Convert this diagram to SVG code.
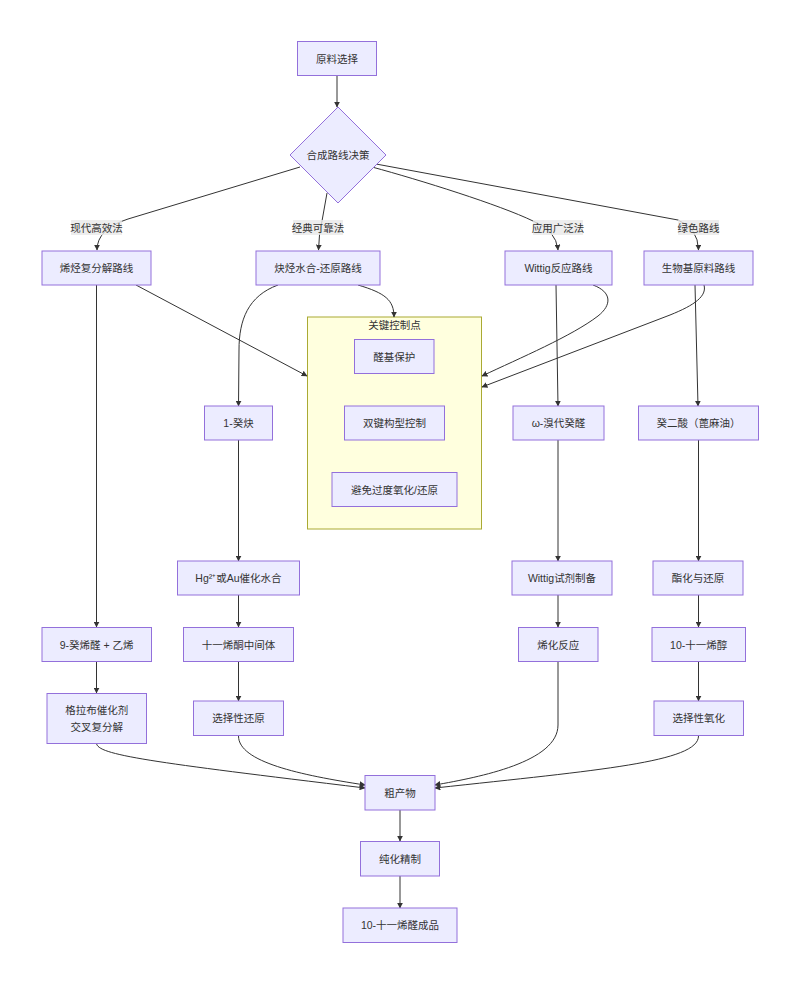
<svg xmlns="http://www.w3.org/2000/svg" width="800" height="984" viewBox="0 0 800 984">
<style>
.node rect, .node polygon { fill: #ECECFF; stroke: #9370DB; stroke-width: 1; }
.node text, .lbl text, .ct { font-family: "Liberation Sans", "Noto Sans CJK SC", sans-serif; font-size: 10.5px; fill: #333333; text-anchor: middle; dominant-baseline: central; }
.edges path { fill: none; stroke: #333333; stroke-width: 1; marker-end: url(#arr); }
.lbl rect { fill: #E8E8E8; fill-opacity: 0.8; stroke: none; }
.cluster rect { fill: #FFFFDE; stroke: #AAAA33; stroke-width: 1; }
</style>
<defs>
<marker id="arr" viewBox="0 0 10 10" refX="9" refY="5" markerWidth="6" markerHeight="6" markerUnits="userSpaceOnUse" orient="auto">
<path d="M0,0 L10,5 L0,10 z" fill="#333333"/>
</marker>
</defs>
<rect width="800" height="984" fill="#FFFFFF"/>

<g id="cluster-control" class="cluster">
<rect x="307.5" y="317" width="174" height="212"/>
<text class="ct" x="394.5" y="325">关键控制点</text>
</g>

<g class="edges" id="edges">
<path d="M337,75 L337,107"/>
<path d="M300,167 L128,219 Q97,229 97,250"/>
<path d="M327,193 L319.5,235 L318.5,250"/>
<path d="M372,167 C420,180 500,205 533,221 Q556,230 558,250"/>
<path d="M376,164 L678,220 Q698,228 698.5,250"/>
<path d="M136,285 L307,376"/>
<path d="M96.5,285 L96.5,627"/>
<path d="M96.5,661 L96.5,693"/>
<path d="M96.5,743 C96.5,755 150,762 365,788"/>
<path d="M278,285 C248,296 239,320 239,350 L238.5,406"/>
<path d="M358,285 C385,293 394,300 394,317"/>
<path d="M593,285 C612,292 612,305 598,316 C572,336 520,358 482,376"/>
<path d="M556,285 L558,406"/>
<path d="M704,285 C707,296 695,305 670,315 L482,387"/>
<path d="M695,285 L698,406"/>
<path d="M238.5,440 L238.5,561"/>
<path d="M238.5,595 L238.5,627"/>
<path d="M238.5,661 L238.5,701"/>
<path d="M238.5,736 C238.5,762 300,775 365,785"/>
<path d="M558,440 L558,561"/>
<path d="M558,595 L558,627"/>
<path d="M558,661 L558,725 C558,762 480,777 435,785"/>
<path d="M698.5,440 L698.5,561"/>
<path d="M698.5,595 L698.5,627"/>
<path d="M698.5,661 L698.5,701"/>
<path d="M698.5,736 C698.5,762 600,770 435,788"/>
<path d="M400,810 L400,841"/>
<path d="M400,876 L400,908"/>
</g>

<g id="edge-labels">
<g class="lbl"><rect x="71" y="220" width="51" height="15"/><text x="96.5" y="227.5">现代高效法</text></g>
<g class="lbl"><rect x="293" y="220" width="50" height="15"/><text x="318" y="227.5">经典可靠法</text></g>
<g class="lbl"><rect x="533" y="220" width="50" height="15"/><text x="558" y="227.5">应用广泛法</text></g>
<g class="lbl"><rect x="678" y="220" width="41" height="15"/><text x="698.5" y="227.5">绿色路线</text></g>
</g>

<g id="n-start" class="node"><rect x="297.5" y="41.5" width="79" height="34"/><text x="337" y="58.5">原料选择</text></g>
<g id="n-decision" class="node"><polygon points="338,107 386,155 338,203 290,155"/><text x="338" y="155">合成路线决策</text></g>

<g id="n-metathesis" class="node"><rect x="42" y="251" width="109" height="34"/><text x="96.5" y="268">烯烃复分解路线</text></g>
<g id="n-alkyne" class="node"><rect x="256" y="251" width="124" height="34"/><text x="318" y="268">炔烃水合-还原路线</text></g>
<g id="n-wittig" class="node"><rect x="505" y="251" width="107" height="34"/><text x="558.5" y="268">Wittig反应路线</text></g>
<g id="n-bio" class="node"><rect x="644" y="251" width="109" height="34"/><text x="698.5" y="268">生物基原料路线</text></g>

<g id="n-cp1" class="node"><rect x="354.5" y="339.5" width="79.5" height="34"/><text x="394.3" y="356.5">醛基保护</text></g>
<g id="n-cp2" class="node"><rect x="344.5" y="406" width="100" height="34"/><text x="394.5" y="423">双键构型控制</text></g>
<g id="n-cp3" class="node"><rect x="332" y="472.5" width="125" height="34"/><text x="394.5" y="489.5">避免过度氧化/还原</text></g>

<g id="n-decyne" class="node"><rect x="204.5" y="406" width="68" height="34"/><text x="238.5" y="423">1-癸炔</text></g>
<g id="n-bromo" class="node"><rect x="513" y="406" width="91" height="34"/><text x="558.5" y="423">ω-溴代癸醛</text></g>
<g id="n-sebacic" class="node"><rect x="638.5" y="406" width="120" height="34"/><text x="698.5" y="423">癸二酸（蓖麻油）</text></g>

<g id="n-hydration" class="node"><rect x="177.5" y="561" width="122" height="34"/><text x="238.5" y="578">Hg²⁺或Au催化水合</text></g>
<g id="n-ylide" class="node"><rect x="512" y="561" width="100" height="34"/><text x="562" y="578">Wittig试剂制备</text></g>
<g id="n-ester" class="node"><rect x="653" y="561" width="90" height="34"/><text x="698" y="578">酯化与还原</text></g>

<g id="n-decenal" class="node"><rect x="42" y="627.5" width="109.5" height="34"/><text x="96.7" y="644.5">9-癸烯醛 + 乙烯</text></g>
<g id="n-ketone" class="node"><rect x="183.5" y="627.5" width="110" height="34"/><text x="238.5" y="644.5">十一烯酮中间体</text></g>
<g id="n-olefination" class="node"><rect x="518.5" y="627.5" width="79.5" height="34"/><text x="558.3" y="644.5">烯化反应</text></g>
<g id="n-undecenol" class="node"><rect x="652" y="627.5" width="93.5" height="34"/><text x="698.7" y="644.5">10-十一烯醇</text></g>

<g id="n-grubbs" class="node"><rect x="47" y="693.5" width="99.5" height="50"/><text x="96.7" y="710">格拉布催化剂</text><text x="96.7" y="726.5">交叉复分解</text></g>
<g id="n-reduction" class="node"><rect x="193.5" y="701" width="90" height="34.5"/><text x="238.5" y="718.3">选择性还原</text></g>
<g id="n-oxidation" class="node"><rect x="654" y="701" width="89.5" height="34.5"/><text x="698.7" y="718.3">选择性氧化</text></g>

<g id="n-crude" class="node"><rect x="365" y="775.5" width="70" height="34.5"/><text x="400" y="792.5">粗产物</text></g>
<g id="n-purify" class="node"><rect x="360.5" y="841.5" width="79" height="34.5"/><text x="400" y="858.8">纯化精制</text></g>
<g id="n-product" class="node"><rect x="343" y="908" width="114" height="34.5"/><text x="400" y="925.3">10-十一烯醛成品</text></g>
</svg>
